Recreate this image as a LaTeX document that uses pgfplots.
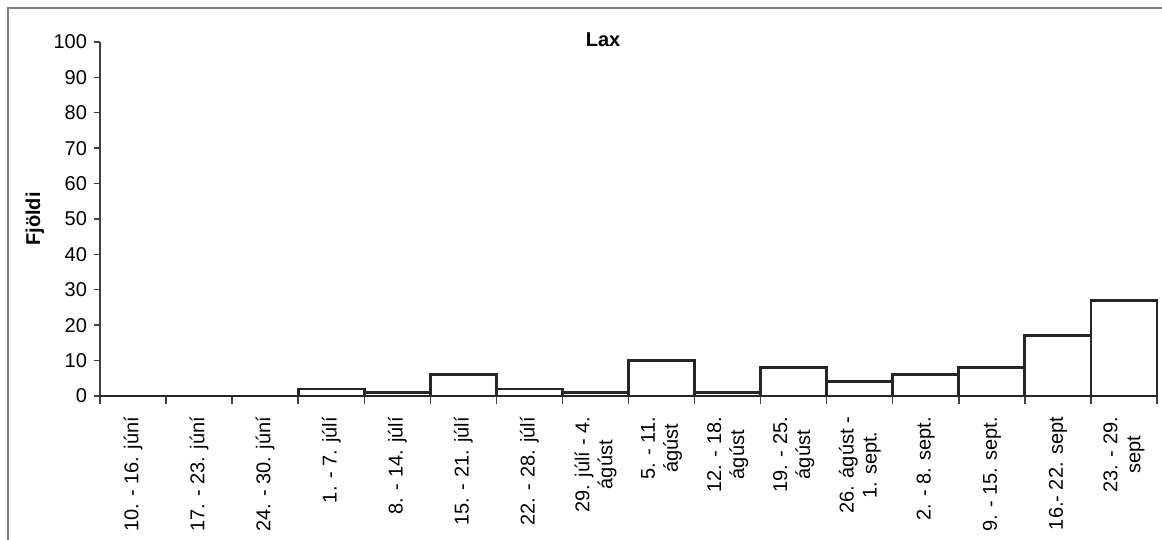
\documentclass[border=0pt]{standalone}
\usepackage{pgfplots}
\pgfplotsset{compat=1.18}
\usepackage{fontspec}
\setmainfont{Liberation Sans}
\begin{document}
\begin{tikzpicture}[x=1pt,y=1pt]
\useasboundingbox (-50,-72) rectangle (531,198);
\draw[black!50, line width=0.6pt] (-46,-72) -- (-46,194) -- (531,194);
\begin{axis}[
  at={(0,0)}, anchor=south west,
  scale only axis, width=528.5pt, height=177pt,
  xmin=-0.5, xmax=15.5, ymin=0, ymax=100,
  axis x line*=bottom, axis y line*=left,
  axis line style={black!75, line width=0.7pt},
  every tick/.style={black!75, line width=0.7pt},
  tick align=outside,
  ytick={0,10,...,100},
  major tick length=3pt,
  xtick={0,...,15},
  major x tick style={draw=none},
  minor xtick={-0.5,0.5,...,15.5},
  minor tick length=4pt,
  xticklabels={
    {10. - 16. júní},
    {17. - 23. júní},
    {24. - 30. júní},
    {1. - 7. júlí},
    {8. - 14. júlí},
    {15. - 21. júlí},
    {22. - 28. júlí},
    {29. júlí - 4.\\ágúst},
    {5. - 11.\\ágúst},
    {12. - 18.\\ágúst},
    {19. - 25.\\ágúst},
    {26. ágúst -\\1. sept.},
    {2. - 8. sept.},
    {9. - 15. sept.},
    {16.- 22. sept},
    {23. - 29.\\sept}},
  xticklabel shift=4pt,
  x tick label style={rotate=90, anchor=east, align=center, font=\fontsize{10}{11.5}\selectfont},
  y tick label style={font=\fontsize{10}{12}\selectfont},
  /pgf/number format/assume math mode=true,
  ylabel={Fjöldi},
  ylabel style={at={(axis description cs:-0.0615,0.5)}, anchor=center, font=\bfseries\fontsize{10}{12}\selectfont},
  title={Lax},
  title style={at={(axis description cs:0.476,0.972)}, anchor=center, font=\bfseries\fontsize{10}{12}\selectfont},
  clip=false,
  ybar, bar width=1,
]
\addplot[fill=white, draw=black!85, line width=1.4pt] coordinates {
  (0,0) (1,0) (2,0) (3,2) (4,1) (5,6) (6,2) (7,1)
  (8,10) (9,1) (10,8) (11,4) (12,6) (13,8) (14,17) (15,27)
};
\end{axis}
\end{tikzpicture}
\end{document}
